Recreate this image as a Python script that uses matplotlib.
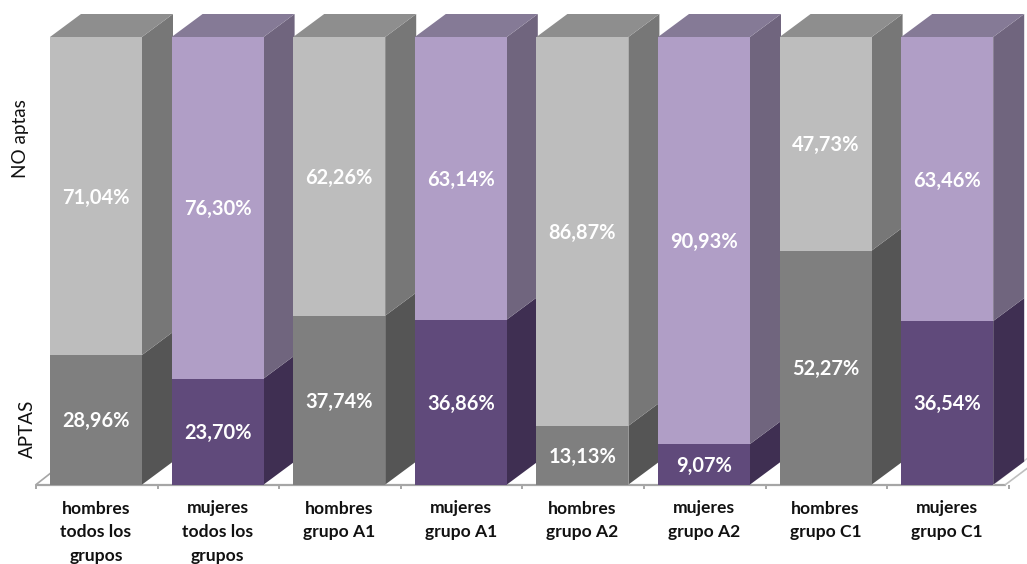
import matplotlib
matplotlib.use("Agg")
import matplotlib.pyplot as plt
from matplotlib.patches import Polygon

categories = ["hombres\ntodos los\ngrupos", "mujeres\ntodos los\ngrupos", "hombres\ngrupo A1", "mujeres\ngrupo A1",
              "hombres\ngrupo A2", "mujeres\ngrupo A2", "hombres\ngrupo C1", "mujeres\ngrupo C1"]
aptas = [28.96, 23.70, 37.74, 36.86, 13.13, 9.07, 52.27, 36.54]
no_aptas = [71.04, 76.30, 62.26, 63.14, 86.87, 90.93, 47.73, 63.46]

plt.rcParams['font.family'] = ['Lato', 'DejaVu Sans']
W, H = 1027, 564
fig = plt.figure(figsize=(W / 100, H / 100), dpi=100)
ax = fig.add_axes([0, 0, 1, 1])

PITCH, C0 = 121.6, 96.0      # px per category, px of first centre
Y0, PXU = 484.6, 4.476       # px of 0 %, px per 1 %
ax.set_xlim(-C0 / PITCH, (W - C0) / PITCH)
ax.set_ylim((Y0 - H) / PXU, Y0 / PXU)
ax.axis("off")

bw = 92 / PITCH
dx, dy = 31 / PITCH, 23 / PXU

styles = {
    0: dict(low="#7F7F7F", low_side="#555555", up="#BDBDBD", up_side="#777777", top="#8E8E8E"),
    1: dict(low="#604A7B", low_side="#3F2F52", up="#B09EC6", up_side="#70657E", top="#857A96"),
}

# floor / axis
axis_c = "#A6A6A6"
xl, xr = -60 / PITCH, 909.5 / PITCH
ax.plot([xl, xr], [0, 0], color=axis_c, lw=1.6, zorder=1, solid_capstyle="butt")
ax.plot([xl, xl + 14 / PITCH], [0, 11 / PXU], color=axis_c, lw=1.2, zorder=1)
ax.plot([xr, xr + 24 / PITCH], [0, 18 / PXU], color="#BFBFBF", lw=1.2, zorder=1)
ax.plot([897 / PITCH, 897 / PITCH + 34 / PITCH], [0, 26 / PXU], color="#D0D0D0", lw=1.0, zorder=1)
for i in range(len(categories) + 1):
    x = xl + i * PITCH / PITCH
    ax.plot([x, x], [0, -4.5 / PXU], color=axis_c, lw=1.4, zorder=1, solid_capstyle="butt")

for i, (a, n) in enumerate(zip(aptas, no_aptas)):
    s = styles[i % 2]
    z = 2 + i
    l, r = i - bw / 2, i + bw / 2
    tot = a + n
    ax.add_patch(Polygon([(r, 0), (r + dx, dy), (r + dx, a + dy), (r, a)], fc=s["low_side"], ec="none", zorder=z))
    ax.add_patch(Polygon([(r, a), (r + dx, a + dy), (r + dx, tot + dy), (r, tot)], fc=s["up_side"], ec="none", zorder=z))
    ax.add_patch(Polygon([(l, tot), (l + dx, tot + dy), (r + dx, tot + dy), (r, tot)], fc=s["top"], ec="none", zorder=z))
    ax.bar(i, a, width=bw, color=s["low"], linewidth=0, zorder=z)
    ax.bar(i, n, width=bw, bottom=a, color=s["up"], linewidth=0, zorder=z)
    for val, mid in ((a, a / 2), (n, a + n / 2)):
        ax.text(i, mid - 1.5 / PXU, f"{val:.2f}%".replace(".", ","), color="white", fontsize=14.4, fontweight="bold",
                ha="center", va="center", zorder=30)
    for k, line in enumerate(categories[i].split("\n")):
        ax.text(i, (Y0 - (508.5 + 23.5 * k)) / PXU, line, color="#111111", fontsize=12.6, fontweight="bold",
                ha="center", va="center", zorder=30)

ax.text(-75.5 / PITCH, (Y0 - 139) / PXU, "NO aptas", rotation=90, fontsize=13.6, color="#111111", ha="center", va="center")
ax.text(-69 / PITCH, (Y0 - 429) / PXU, "APTAS", rotation=90, fontsize=13.6, color="#111111", ha="center", va="center")

fig.savefig("out.png", dpi=100)
